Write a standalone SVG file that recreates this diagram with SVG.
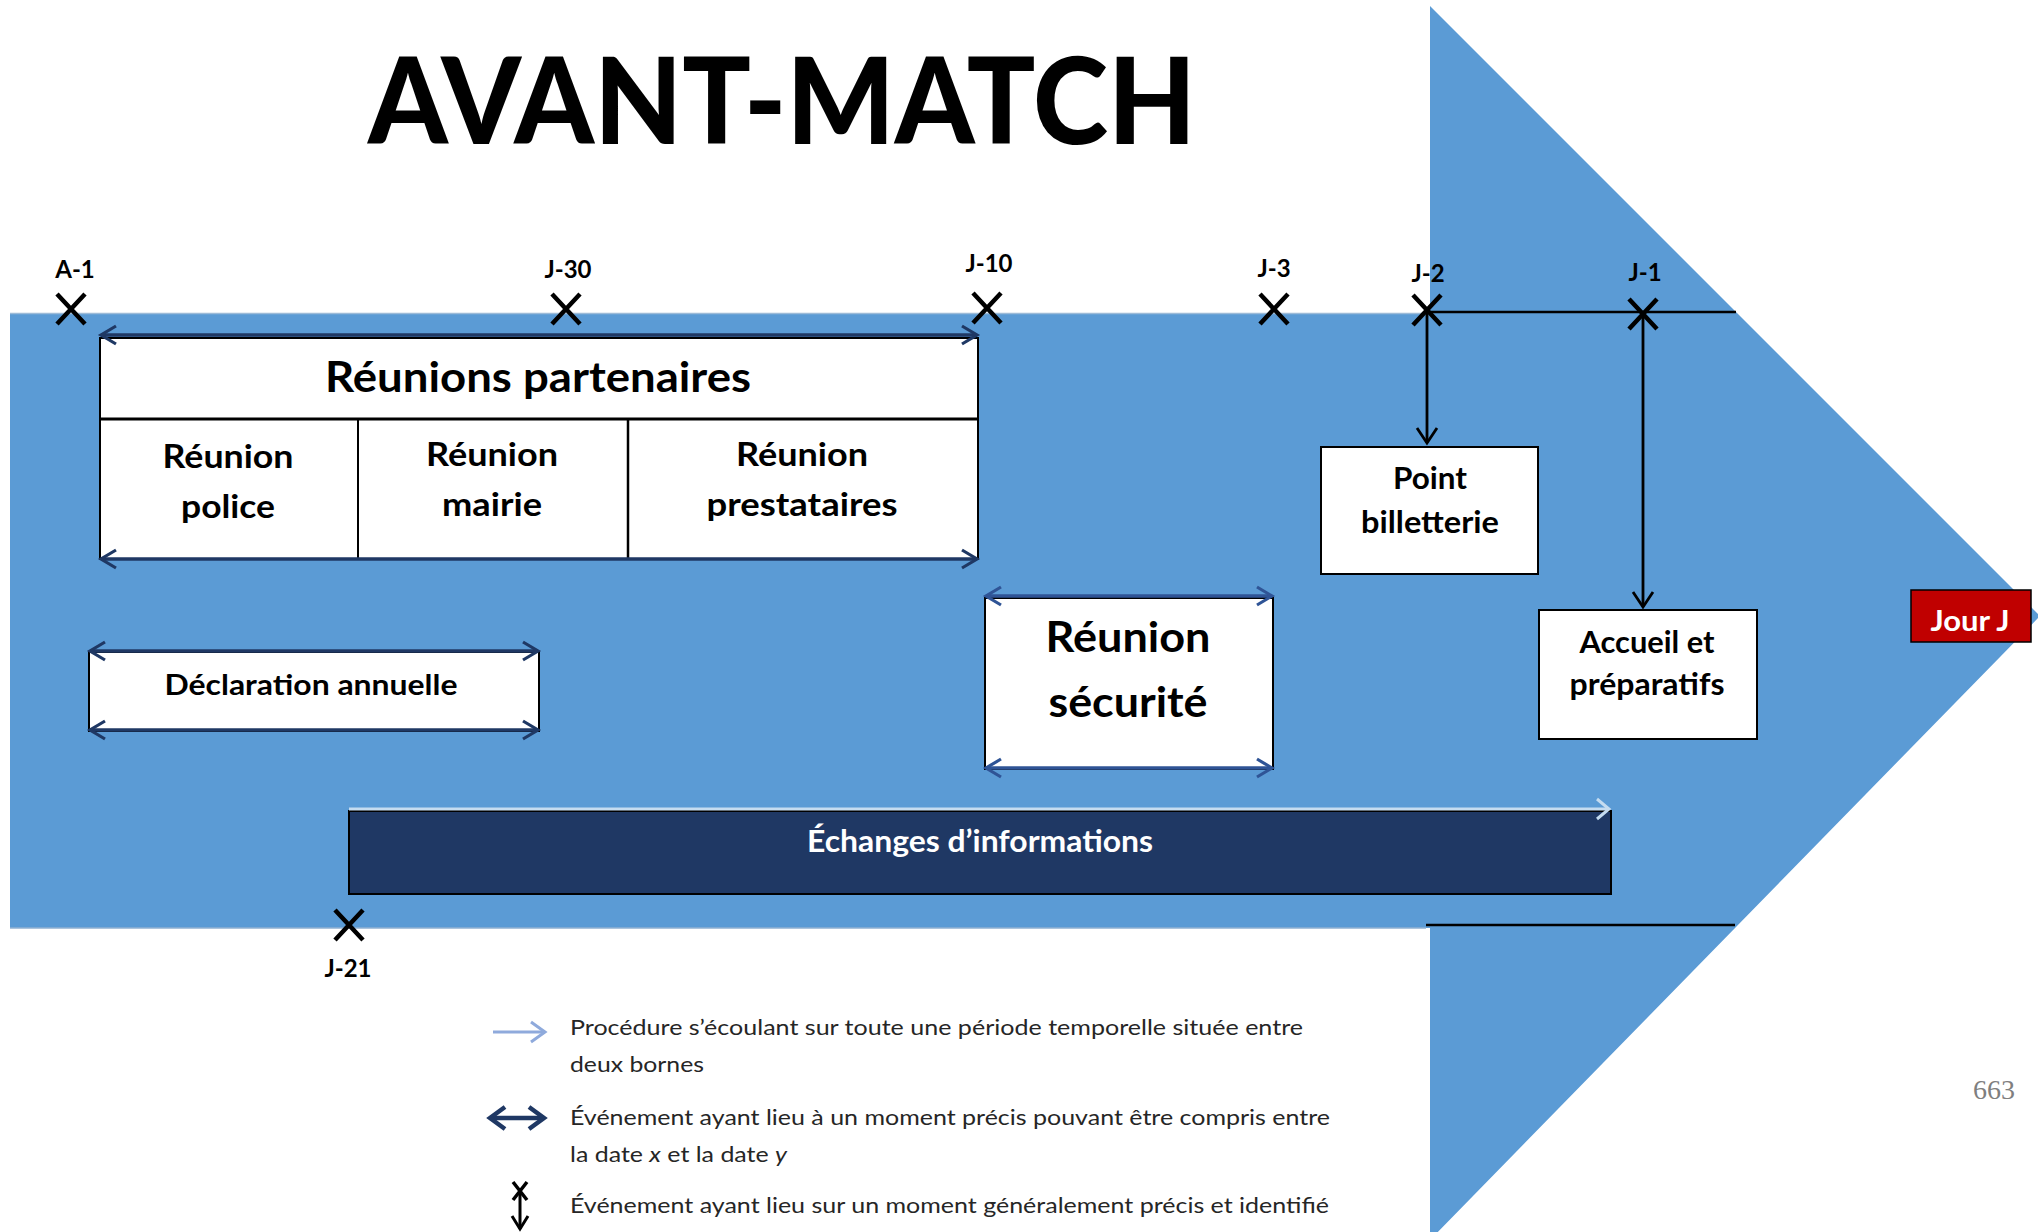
<svg xmlns="http://www.w3.org/2000/svg" xmlns:xlink="http://www.w3.org/1999/xlink" width="2038" height="1232" viewBox="0 0 2038 1232">
<style>
.t{font-family:Lato,"Open Sans","Liberation Sans",sans-serif;font-weight:700;fill:#000;text-anchor:middle}
.w{fill:#fff}
.lg{font-family:Lato,"Open Sans","Liberation Sans",sans-serif;font-weight:400;fill:#262626;font-size:22px}
.box{fill:#fff;stroke:#000;stroke-width:2}
.cross{fill:none;stroke:#000;stroke-width:4.5;stroke-linecap:butt}
.nav{fill:none;stroke:#1F3864;stroke-width:3.5}
.nav2{fill:none;stroke:#2F5496;stroke-width:3.5}
.blk{fill:none;stroke:#000;stroke-width:2.8}
</style>
<defs>
<path id="cross" class="cross" d="M-14,-15 L14,15 M14,-15 L-14,15"/>
<marker id="mNav" viewBox="-20 -12 24 24" refX="0" refY="0" markerWidth="24" markerHeight="24" markerUnits="userSpaceOnUse" orient="auto-start-reverse"><path d="M-15,-9 L0,0 L-15,9" fill="none" stroke="#1F3864" stroke-width="3.2"/></marker>
<marker id="mNav2" viewBox="-20 -12 24 24" refX="0" refY="0" markerWidth="24" markerHeight="24" markerUnits="userSpaceOnUse" orient="auto-start-reverse"><path d="M-15,-9 L0,0 L-15,9" fill="none" stroke="#2F5496" stroke-width="3.2"/></marker>
<marker id="mBlk" viewBox="-20 -12 24 24" refX="0" refY="0" markerWidth="24" markerHeight="24" markerUnits="userSpaceOnUse" orient="auto"><path d="M-15,-10 L0,0 L-15,10" fill="none" stroke="#000" stroke-width="2.8"/></marker>
<marker id="mLight" viewBox="-20 -12 24 24" refX="0" refY="0" markerWidth="24" markerHeight="24" markerUnits="userSpaceOnUse" orient="auto"><path d="M-12,-10 L0,0 L-12,10" fill="none" stroke="#C5DCF0" stroke-width="3"/></marker>
<marker id="mLeg" viewBox="-20 -12 24 24" refX="0" refY="0" markerWidth="24" markerHeight="24" markerUnits="userSpaceOnUse" orient="auto"><path d="M-14,-10 L0,0 L-14,10" fill="none" stroke="#8FAADC" stroke-width="3"/></marker>
<marker id="mLegNav" viewBox="-20 -14 24 28" refX="0" refY="0" markerWidth="24" markerHeight="28" markerUnits="userSpaceOnUse" orient="auto-start-reverse"><path d="M-15,-11 L0,0 L-15,11" fill="none" stroke="#1F3864" stroke-width="4.5"/></marker>
<marker id="mLegBlk" viewBox="-20 -12 24 24" refX="0" refY="0" markerWidth="24" markerHeight="24" markerUnits="userSpaceOnUse" orient="auto"><path d="M-13,-8 L0,0 L-13,8" fill="none" stroke="#000" stroke-width="3"/></marker>
</defs>

<g id="background">
<rect width="2038" height="1232" fill="#fff"/>
<polygon points="10,313 1430,313 1430,6 2040,616 1430,1240 1430,928 10,928" fill="#5B9BD5"/>
<line x1="10" y1="313.5" x2="1427" y2="313.5" stroke="#9DBBD8" stroke-width="1.5"/>
<line x1="10" y1="928" x2="1426" y2="928" stroke="#8FB0D2" stroke-width="1.5"/>
</g>

<text id="title" class="t" x="782" y="144" font-size="120" font-weight="900" textLength="828" lengthAdjust="spacingAndGlyphs" style="font-weight:900">AVANT-MATCH</text>

<g id="milestones">
<g id="m-A-1"><use href="#cross" x="71" y="309"/><text class="t" x="75" y="278" font-size="24">A-1</text></g>
<g id="m-J-30"><use href="#cross" x="566" y="309"/><text class="t" x="568" y="278" font-size="24">J-30</text></g>
<g id="m-J-10"><use href="#cross" x="987" y="308"/><text class="t" x="989" y="272" font-size="24">J-10</text></g>
<g id="m-J-3"><use href="#cross" x="1274" y="309"/><text class="t" x="1274" y="277" font-size="24">J-3</text></g>
<g id="m-J-2"><use href="#cross" x="1427" y="310"/><text class="t" x="1428" y="282" font-size="24">J-2</text></g>
<g id="m-J-1"><use href="#cross" x="1643" y="314"/><text class="t" x="1645" y="281" font-size="24">J-1</text></g>
<g id="m-J-21"><use href="#cross" x="349" y="925"/><text class="t" x="348" y="977" font-size="24">J-21</text></g>
</g>

<g id="node-reunions-partenaires">
<rect class="box" x="100" y="338" width="878" height="221"/>
<line x1="100" y1="419" x2="978" y2="419" stroke="#000" stroke-width="3"/>
<line x1="358" y1="419" x2="358" y2="559" stroke="#000" stroke-width="2"/>
<line x1="628" y1="419" x2="628" y2="559" stroke="#000" stroke-width="2.5"/>
<text class="t" x="538" y="392" font-size="42" textLength="426" lengthAdjust="spacingAndGlyphs">Réunions partenaires</text>
<text class="t" x="228" y="468" font-size="33" textLength="131" lengthAdjust="spacingAndGlyphs">Réunion</text>
<text class="t" x="228" y="518" font-size="33" textLength="94" lengthAdjust="spacingAndGlyphs">police</text>
<text class="t" x="492" y="466" font-size="33" textLength="132" lengthAdjust="spacingAndGlyphs">Réunion</text>
<text class="t" x="492" y="516" font-size="33" textLength="100" lengthAdjust="spacingAndGlyphs">mairie</text>
<text class="t" x="802" y="466" font-size="33" textLength="132" lengthAdjust="spacingAndGlyphs">Réunion</text>
<text class="t" x="802" y="516" font-size="33" textLength="191" lengthAdjust="spacingAndGlyphs">prestataires</text>
</g>

<g id="node-declaration">
<rect class="box" x="89" y="652" width="450" height="79"/>
<text class="t" x="311" y="695" font-size="29" textLength="293" lengthAdjust="spacingAndGlyphs">Déclaration annuelle</text>
</g>

<g id="node-securite">
<rect class="box" x="985" y="598" width="288" height="171"/>
<text class="t" x="1128" y="652" font-size="42" textLength="165" lengthAdjust="spacingAndGlyphs">Réunion</text>
<text class="t" x="1128" y="717" font-size="42" textLength="159" lengthAdjust="spacingAndGlyphs">sécurité</text>
</g>

<g id="node-billetterie">
<rect class="box" x="1321" y="447" width="217" height="127"/>
<text class="t" x="1430" y="489" font-size="30" textLength="74" lengthAdjust="spacingAndGlyphs">Point</text>
<text class="t" x="1430" y="533" font-size="30" textLength="138" lengthAdjust="spacingAndGlyphs">billetterie</text>
</g>

<g id="node-accueil">
<rect class="box" x="1539" y="610" width="218" height="129"/>
<text class="t" x="1647" y="653" font-size="30" textLength="135" lengthAdjust="spacingAndGlyphs">Accueil et</text>
<text class="t" x="1647" y="695" font-size="30" textLength="155" lengthAdjust="spacingAndGlyphs">préparatifs</text>
</g>

<g id="node-jourj">
<rect x="1911" y="590" width="120" height="52" fill="#C00000" stroke="#000" stroke-width="1.5"/>
<text class="t w" x="1970" y="631" font-size="28" textLength="79" lengthAdjust="spacingAndGlyphs">Jour J</text>
</g>

<g id="node-echanges">
<rect x="349" y="811" width="1262" height="83" fill="#1F3864" stroke="#000" stroke-width="2"/>
<text class="t w" x="980" y="852" font-size="31" textLength="346" lengthAdjust="spacingAndGlyphs">Échanges d’informations</text>
</g>

<g id="connectors">
<line x1="1427" y1="312" x2="1736" y2="312" stroke="#000" stroke-width="2.5"/>
<line x1="1426" y1="925" x2="1735" y2="925" stroke="#000" stroke-width="2.5"/>
<line class="nav" x1="101" y1="335" x2="977" y2="335" marker-start="url(#mNav)" marker-end="url(#mNav)"/>
<line class="nav" x1="101" y1="559" x2="977" y2="559" marker-start="url(#mNav)" marker-end="url(#mNav)"/>
<line class="nav" x1="90" y1="651" x2="538" y2="651" marker-start="url(#mNav)" marker-end="url(#mNav)"/>
<line class="nav" x1="90" y1="730" x2="538" y2="730" marker-start="url(#mNav)" marker-end="url(#mNav)"/>
<line class="nav2" x1="986" y1="596" x2="1272" y2="596" marker-start="url(#mNav2)" marker-end="url(#mNav2)"/>
<line class="nav2" x1="986" y1="768" x2="1272" y2="768" marker-start="url(#mNav2)" marker-end="url(#mNav2)"/>
<line class="blk" x1="1427" y1="312" x2="1427" y2="443" marker-end="url(#mBlk)"/>
<line class="blk" x1="1643" y1="316" x2="1643" y2="607" marker-end="url(#mBlk)"/>
<line x1="349" y1="809" x2="1609" y2="809" stroke="#C5DCF0" stroke-width="3" marker-end="url(#mLight)"/>
</g>

<g id="legend">
<line x1="493" y1="1032" x2="545" y2="1032" stroke="#8FAADC" stroke-width="3" marker-end="url(#mLeg)"/>
<text class="lg" x="570" y="1035" textLength="733" lengthAdjust="spacingAndGlyphs">Procédure s’écoulant sur toute une période temporelle située entre</text>
<text class="lg" x="570" y="1072" textLength="134" lengthAdjust="spacingAndGlyphs">deux bornes</text>
<line x1="490" y1="1118" x2="544" y2="1118" stroke="#1F3864" stroke-width="4.5" marker-start="url(#mLegNav)" marker-end="url(#mLegNav)"/>
<text class="lg" x="570" y="1125" textLength="760" lengthAdjust="spacingAndGlyphs">Événement ayant lieu à un moment précis pouvant être compris entre</text>
<text class="lg" x="570" y="1162" textLength="217" lengthAdjust="spacingAndGlyphs">la date <tspan font-style="italic">x</tspan> et la date <tspan font-style="italic">y</tspan></text>
<path d="M513,1182 L527,1200 M527,1182 L513,1200" stroke="#000" stroke-width="3.5" fill="none"/>
<line x1="520" y1="1188" x2="520" y2="1229" stroke="#000" stroke-width="3" marker-end="url(#mLegBlk)"/>
<text class="lg" x="570" y="1213" textLength="759" lengthAdjust="spacingAndGlyphs">Événement ayant lieu sur un moment généralement précis et identifié</text>
</g>

<text id="page-number" x="1994" y="1099" font-family="'Liberation Serif',serif" font-size="28" fill="#7F7F7F" text-anchor="middle">663</text>
</svg>
